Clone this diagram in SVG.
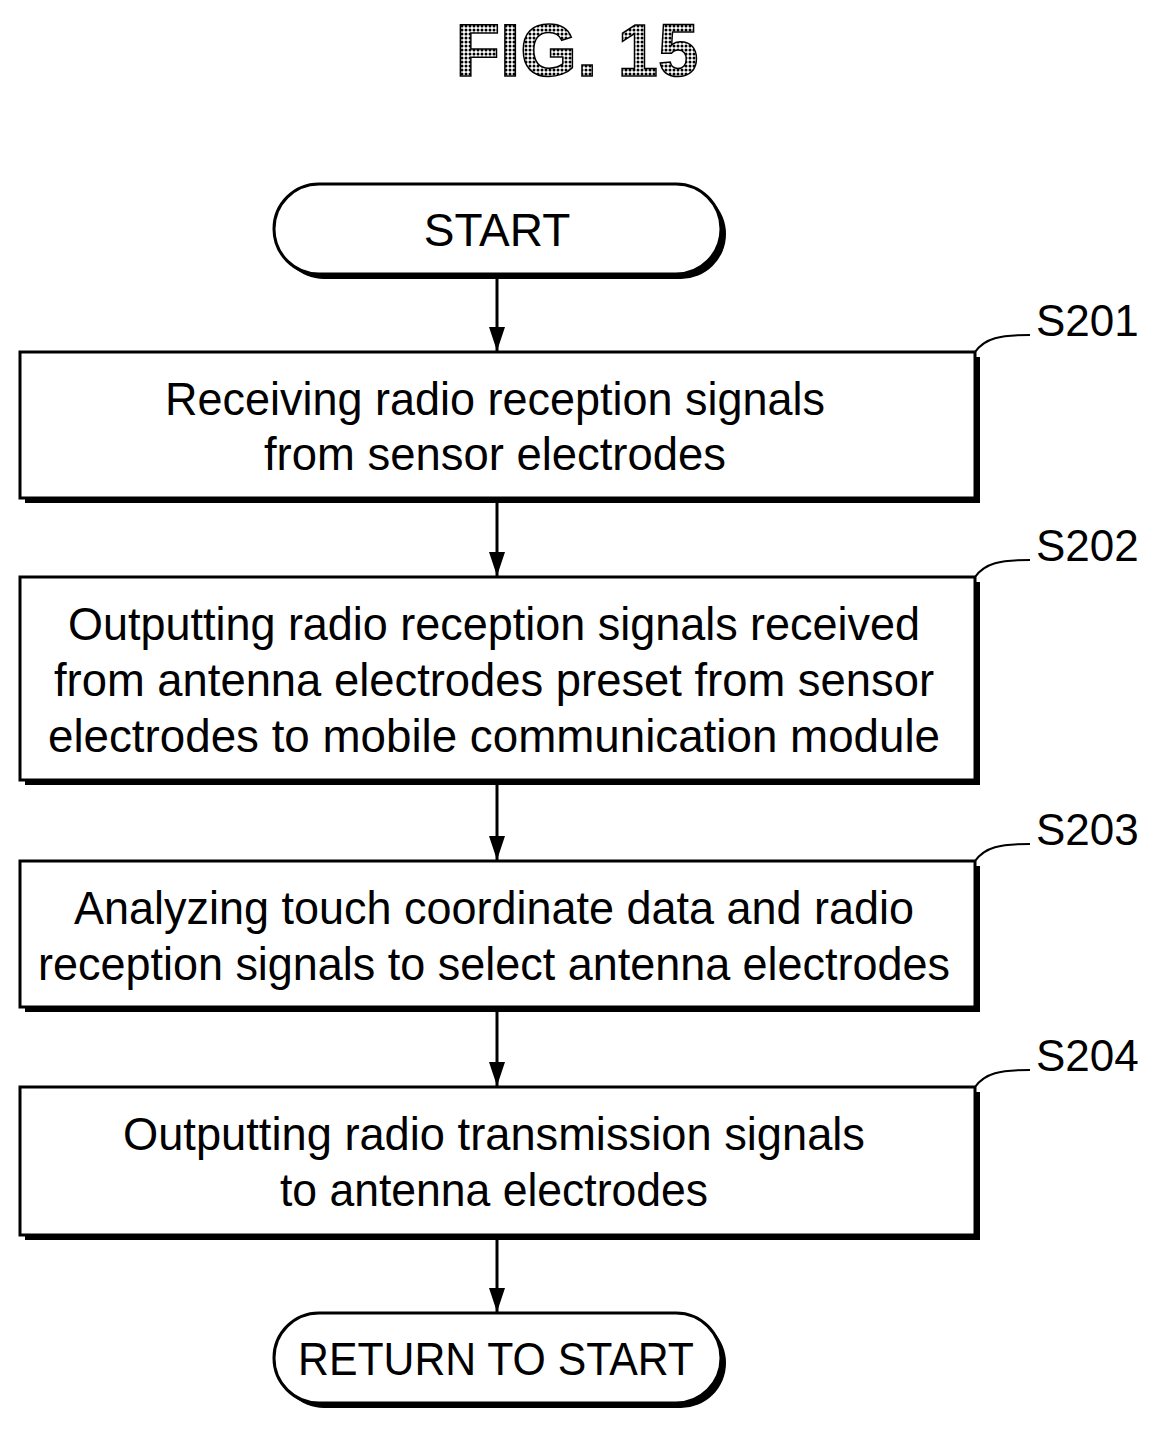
<svg xmlns="http://www.w3.org/2000/svg" width="1161" height="1431" viewBox="0 0 1161 1431">
<defs>
<style>
.b{fill:#fff;stroke:#000;stroke-width:3}
.s{fill:#000}
.t{font-family:"Liberation Sans",Arial,sans-serif;font-size:46px;text-anchor:middle;fill:#000}
.l{font-family:"Liberation Sans",Arial,sans-serif;font-size:44px;fill:#000}
.c{fill:none;stroke:#000;stroke-width:3}
.lead{fill:none;stroke:#000;stroke-width:2}
</style>
<pattern id="dots" width="4" height="4" patternUnits="userSpaceOnUse"><rect width="4" height="4" fill="#fff"/><circle cx="2" cy="2" r="1.5" fill="#000"/></pattern>
<marker id="a" markerWidth="24" markerHeight="16" refX="24" refY="8" orient="auto" markerUnits="userSpaceOnUse"><path d="M0,0 L24,8 L0,16 z" fill="#000"/></marker>
</defs>
<rect width="1161" height="1431" fill="#fff"/>
<text x="577" y="76" font-family="Liberation Sans,Arial,sans-serif" font-size="74" font-weight="bold" text-anchor="middle" fill="url(#dots)" stroke="#000" stroke-width="1.5" textLength="243" lengthAdjust="spacingAndGlyphs">FIG. 15</text>
<g id="connectors">
<line class="c" x1="497" y1="278" x2="497" y2="351" marker-end="url(#a)"/>
<line class="c" x1="497" y1="500" x2="497" y2="576" marker-end="url(#a)"/>
<line class="c" x1="497" y1="782" x2="497" y2="860" marker-end="url(#a)"/>
<line class="c" x1="497" y1="1009" x2="497" y2="1086" marker-end="url(#a)"/>
<line class="c" x1="497" y1="1237" x2="497" y2="1312" marker-end="url(#a)"/>
</g>
<g id="start">
<rect class="s" x="279" y="189" width="447" height="90" rx="45"/>
<rect class="b" x="274" y="184" width="447" height="90" rx="45"/>
<text class="t" x="497" y="246">START</text>
</g>
<g id="s201">
<rect class="s" x="25" y="357" width="955" height="146"/>
<rect class="b" x="20" y="352" width="955" height="146"/>
<text class="t" x="495" y="415" textLength="660" lengthAdjust="spacingAndGlyphs">Receiving radio reception signals</text>
<text class="t" x="495" y="470" textLength="462" lengthAdjust="spacingAndGlyphs">from sensor electrodes</text>
<path class="lead" d="M975,352 C985,338 1000,335 1030,335"/>
<text class="l" x="1036" y="336">S201</text>
</g>
<g id="s202">
<rect class="s" x="25" y="582" width="955" height="203"/>
<rect class="b" x="20" y="577" width="955" height="203"/>
<text class="t" x="494" y="640" textLength="852" lengthAdjust="spacingAndGlyphs">Outputting radio reception signals received</text>
<text class="t" x="494" y="696" textLength="880" lengthAdjust="spacingAndGlyphs">from antenna electrodes preset from sensor</text>
<text class="t" x="494" y="752" textLength="892" lengthAdjust="spacingAndGlyphs">electrodes to mobile communication module</text>
<path class="lead" d="M975,577 C985,563 1000,560 1030,560"/>
<text class="l" x="1036" y="561">S202</text>
</g>
<g id="s203">
<rect class="s" x="25" y="866" width="955" height="146"/>
<rect class="b" x="20" y="861" width="955" height="146"/>
<text class="t" x="494" y="924" textLength="840" lengthAdjust="spacingAndGlyphs">Analyzing touch coordinate data and radio</text>
<text class="t" x="494" y="980" textLength="912" lengthAdjust="spacingAndGlyphs">reception signals to select antenna electrodes</text>
<path class="lead" d="M975,861 C985,847 1000,844 1030,844"/>
<text class="l" x="1036" y="845">S203</text>
</g>
<g id="s204">
<rect class="s" x="25" y="1092" width="955" height="148"/>
<rect class="b" x="20" y="1087" width="955" height="148"/>
<text class="t" x="494" y="1150" textLength="742" lengthAdjust="spacingAndGlyphs">Outputting radio transmission signals</text>
<text class="t" x="494" y="1206" textLength="428" lengthAdjust="spacingAndGlyphs">to antenna electrodes</text>
<path class="lead" d="M975,1087 C985,1073 1000,1070 1030,1070"/>
<text class="l" x="1036" y="1071">S204</text>
</g>
<g id="return">
<rect class="s" x="279" y="1318" width="447" height="90" rx="45"/>
<rect class="b" x="274" y="1313" width="447" height="90" rx="45"/>
<text class="t" x="496" y="1375" textLength="396" lengthAdjust="spacingAndGlyphs">RETURN TO START</text>
</g>
</svg>
